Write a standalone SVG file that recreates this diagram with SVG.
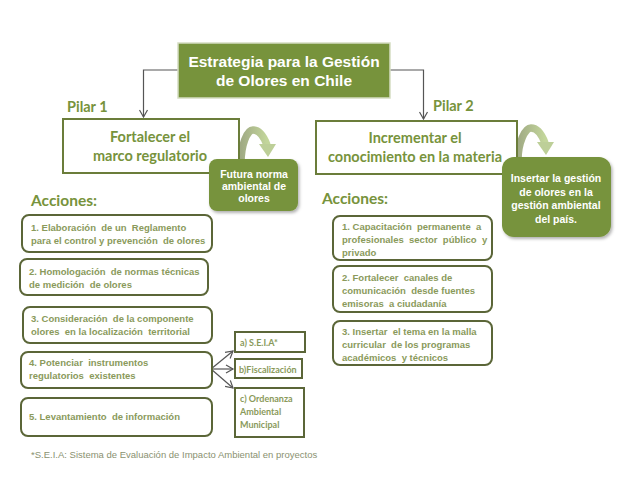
<svg xmlns="http://www.w3.org/2000/svg" width="617" height="480" viewBox="0 0 617 480">
<defs>
<style>
.cal{font-family:Lato,"Open Sans","Liberation Sans",sans-serif;font-weight:bold;fill:#77933C}
.ar{font-family:"Liberation Sans",Arial,sans-serif;font-weight:bold}
.wt{fill:#ffffff}
.act{fill:#8a9a5b;font-size:9.5px}
.sub{font-size:9px;fill:#8a9a5b}
.abox{fill:#ffffff;stroke:#5b6638;stroke-width:2}
.sbox{fill:#ffffff;stroke:#5b6638;stroke-width:2}
.pbox{fill:#ffffff;stroke:#6b7d3a;stroke-width:2}
.gbox{fill:#77933C;filter:url(#sh)}
.conn{fill:none;stroke:#555555;stroke-width:1.2}
.curve{fill:none;stroke:url(#cg);stroke-width:7.5}
</style>
<marker id="open" markerWidth="10" markerHeight="10" refX="8" refY="5" orient="auto" markerUnits="userSpaceOnUse">
<path d="M1,1 L8,5 L1,9" fill="none" stroke="#555555" stroke-width="1.2"/>
</marker>
<linearGradient id="cg" x1="0" y1="0" x2="1" y2="0">
<stop offset="0" stop-color="#a0aa84"/>
<stop offset="1" stop-color="#c3d69b"/>
</linearGradient>
<filter id="sh" x="-10%" y="-10%" width="125%" height="130%">
<feDropShadow dx="1.5" dy="2" stdDeviation="1.5" flood-color="#000000" flood-opacity="0.3"/>
</filter>
</defs>
<rect width="617" height="480" fill="#ffffff"/>

<g id="connectors">
<path class="conn" d="M178,70 H143.5 V117" marker-end="url(#open)"/>
<path class="conn" d="M390,70 H423.5 V119" marker-end="url(#open)"/>
<path class="conn" d="M211,369 L233,351" marker-end="url(#open)"/>
<path class="conn" d="M211,369 L233,369" marker-end="url(#open)"/>
<path class="conn" d="M211,369 L233,388" marker-end="url(#open)"/>
<path class="curve" d="M241,163 C241,145 247,130 253,130 C259,130 264,137 267,145"/>
<polygon points="259,144 276,144 268,157" fill="#bdcf98"/>
<path class="curve" d="M518,160 C518,143 525,128 531,128 C538,128 542,135 545,143"/>
<polygon points="537,142 554,142 546,155" fill="#bdcf98"/>
</g>

<g id="title">
<rect x="178" y="43" width="212" height="55" fill="#77933C" stroke="#d5ddc2" stroke-width="1.5"/>
<text class="ar wt" x="284" y="67" font-size="15.5" text-anchor="middle">Estrategia para la Gestión</text>
<text class="ar wt" x="284" y="86" font-size="15.5" text-anchor="middle">de Olores en Chile</text>
</g>

<g id="pilar1">
<text class="cal" x="67" y="112" font-size="14.5">Pilar 1</text>
<rect class="pbox" x="63" y="119" width="176" height="54"/>
<text class="cal" x="150" y="142" font-size="14.5" text-anchor="middle">Fortalecer el</text>
<text class="cal" x="150" y="161" font-size="14.5" text-anchor="middle">marco regulatorio</text>
</g>

<g id="pilar2">
<text class="cal" x="433" y="111" font-size="14.5">Pilar 2</text>
<rect class="pbox" x="316" y="121" width="201" height="53"/>
<text class="cal" x="415" y="143" font-size="14.5" text-anchor="middle">Incrementar el</text>
<text class="cal" x="415" y="162" font-size="14.5" text-anchor="middle">conocimiento en la materia</text>
</g>

<g id="futura">
<rect class="gbox" x="209" y="159" width="89" height="52" rx="8"/>
<text class="ar wt" x="254" y="178" font-size="10.5" text-anchor="middle">Futura norma</text>
<text class="ar wt" x="254" y="190" font-size="10.5" text-anchor="middle">ambiental de</text>
<text class="ar wt" x="254" y="202" font-size="10.5" text-anchor="middle">olores</text>
</g>

<g id="insertar">
<rect class="gbox" x="502" y="157" width="109" height="80" rx="12"/>
<text class="ar wt" x="556" y="182" font-size="10.5" text-anchor="middle">Insertar la gestión</text>
<text class="ar wt" x="556" y="195.5" font-size="10.5" text-anchor="middle">de olores en la</text>
<text class="ar wt" x="556" y="209" font-size="10.5" text-anchor="middle">gestión ambiental</text>
<text class="ar wt" x="556" y="222.5" font-size="10.5" text-anchor="middle">del país.</text>
</g>

<g id="acciones1">
<text class="cal" x="31" y="206" font-size="15.5">Acciones:</text>
</g>
<g id="acciones2">
<text class="cal" x="322" y="204" font-size="15.5">Acciones:</text>
</g>

<g id="a1">
<rect class="abox" x="22" y="215" width="190" height="37" rx="7"/>
<text class="ar act" x="31" y="231" xml:space="preserve">1. Elaboración  de un  Reglamento</text>
<text class="ar act" x="31" y="244" xml:space="preserve">para el control y prevención  de olores</text>
</g>
<g id="a2">
<rect class="abox" x="20" y="259" width="188" height="36" rx="7"/>
<text class="ar act" x="29" y="275" xml:space="preserve">2. Homologación  de normas técnicas</text>
<text class="ar act" x="29" y="288" xml:space="preserve">de medición  de olores</text>
</g>
<g id="a3">
<rect class="abox" x="23" y="307" width="189" height="36" rx="7"/>
<text class="ar act" x="31" y="322" xml:space="preserve">3. Consideración  de la componente</text>
<text class="ar act" x="31" y="335" xml:space="preserve">olores  en la localización  territorial</text>
</g>
<g id="a4">
<rect class="abox" x="21" y="352" width="191" height="36" rx="7"/>
<text class="ar act" x="29" y="366" xml:space="preserve">4. Potenciar  instrumentos</text>
<text class="ar act" x="29" y="379" xml:space="preserve">regulatorios  existentes</text>
</g>
<g id="a5">
<rect class="abox" x="21" y="398" width="191" height="38" rx="7"/>
<text class="ar act" x="29" y="420" xml:space="preserve">5. Levantamiento  de información</text>
</g>

<g id="sa">
<rect class="sbox" x="235" y="332" width="70" height="20"/>
<text class="cal sub" x="240" y="346">a) S.E.I.A*</text>
</g>
<g id="sb">
<rect class="sbox" x="235" y="359" width="67" height="19"/>
<text class="cal sub" x="239" y="372.5">b)Fiscalización</text>
</g>
<g id="sc">
<rect class="sbox" x="235" y="388" width="69" height="49"/>
<text class="cal sub" x="240" y="402">c) Ordenanza</text>
<text class="cal sub" x="240" y="415">Ambiental</text>
<text class="cal sub" x="240" y="428">Municipal</text>
</g>

<g id="b1">
<rect class="abox" x="333" y="216" width="159" height="44" rx="7"/>
<text class="ar act" x="342" y="230" xml:space="preserve">1. Capacitación  permanente  a</text>
<text class="ar act" x="342" y="243" xml:space="preserve">profesionales  sector  público  y</text>
<text class="ar act" x="342" y="256">privado</text>
</g>
<g id="b2">
<rect class="abox" x="333" y="266" width="159" height="46" rx="7"/>
<text class="ar act" x="342" y="281" xml:space="preserve">2. Fortalecer  canales de</text>
<text class="ar act" x="342" y="294" xml:space="preserve">comunicación  desde fuentes</text>
<text class="ar act" x="342" y="307" xml:space="preserve">emisoras  a ciudadanía</text>
</g>
<g id="b3">
<rect class="abox" x="333" y="321" width="159" height="44" rx="7"/>
<text class="ar act" x="342" y="335" xml:space="preserve">3. Insertar  el tema en la malla</text>
<text class="ar act" x="342" y="348" xml:space="preserve">curricular  de los programas</text>
<text class="ar act" x="342" y="361" xml:space="preserve">académicos  y técnicos</text>
</g>

<g id="footnote">
<text x="31" y="458" font-family="'Liberation Sans',Arial,sans-serif" font-size="9.5" fill="#8a9170">*S.E.I.A: Sistema de Evaluación de Impacto Ambiental en proyectos</text>
</g>
</svg>
